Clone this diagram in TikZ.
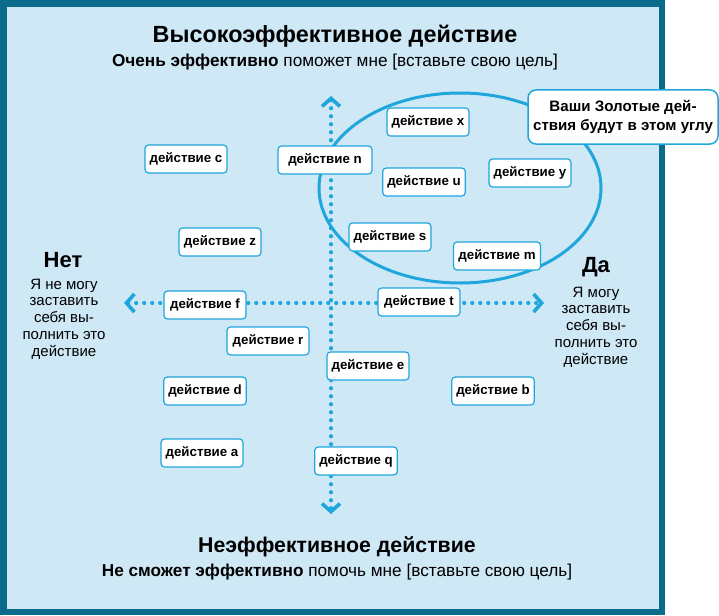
\documentclass[tikz,border=0pt]{standalone}
\usepackage{fontspec}
\setmainfont{Liberation Sans}
\usetikzlibrary{arrows.meta}
\definecolor{frameblue}{HTML}{0B6B8A}
\definecolor{paleblue}{HTML}{CFE8F6}
\definecolor{cyanline}{HTML}{1EA6DD}
\begin{document}
\begin{tikzpicture}[x=1pt,y=-1pt,
		act/.style={draw=cyanline,line width=1.2pt,fill=white,rounded corners=3.5pt,minimum width=82pt,minimum height=28pt,inner xsep=4.5pt,font=\fontsize{13.3}{15}\selectfont\bfseries},
		axis/.style={cyanline,line width=4.2pt,line cap=round,dash pattern=on 0pt off 8pt,>={Straight Barb[length=8pt,width=18pt,line width=3.6pt]},<->},
		side/.style={align=center,font=\fontsize{15}{16.8}\selectfont}]
		\useasboundingbox (0,0) rectangle (719,615);
		\fill[paleblue] (3,3) rectangle (662,612);
		\draw[frameblue,line width=6.5pt] (3.25,3.5) rectangle (661.75,611.75);
		% titles
		\node (top) at (335,36) {\fontsize{23.4}{26}\selectfont\bfseries Высокоэффективное действие};
		\node (topsub) at (335,62) {\fontsize{17.2}{19}\selectfont\textbf{Очень эффективно} поможет мне [вставьте свою цель]};
		\node (bot) at (337,547) {\fontsize{21.3}{24}\selectfont\bfseries Неэффективное действие};
		\node (botsub) at (337,572) {\fontsize{17.2}{19}\selectfont\textbf{Не сможет эффективно} помочь мне [вставьте свою цель]};
		\node (no) at (63,260) {\fontsize{22}{24}\selectfont\bfseries Нет};
		\node[side] (notext) at (64,319) {Я не могу\\заставить\\себя вы-\\полнить это\\действие};
		\node (yes) at (596,267) {\fontsize{22}{24}\selectfont\bfseries Да};
		\node[side] (yestext) at (596,327) {Я могу\\заставить\\себя вы-\\полнить это\\действие};
		% axes
		\coordinate (up) at (331,96);
		\coordinate (down) at (331,514);
		\coordinate (left) at (124,303);
		\coordinate (right) at (544,303);
		\draw[axis] (up) -- (down);
		\draw[axis] (left) -- (right);
		% golden corner
		\draw[cyanline,line width=3pt] (460,188) ellipse [x radius=141pt,y radius=95pt];
		\node[draw=cyanline,line width=1.5pt,fill=white,rounded corners=8pt,minimum width=190pt,minimum height=54pt,align=center,font=\fontsize{15.1}{19}\selectfont\bfseries] (gold) at (623,117) {Ваши Золотые дей-\\ствия будут в этом углу};
		% actions
		\node[act] (c) at (186,159) {действие c};
		\node[act,minimum width=94pt] (n) at (325,160) {действие n};
		\node[act] (x) at (428,122) {действие x};
		\node[act] (u) at (424,182) {действие u};
		\node[act] (y) at (530,173) {действие y};
		\node[act] (s) at (390,237) {действие s};
		\node[act,minimum width=87pt] (m) at (497,256) {действие m};
		\node[act] (z) at (220,242) {действие z};
		\node[act] (f) at (205,305) {действие f};
		\node[act] (r) at (268,341) {действие r};
		\node[act] (d) at (205,391) {действие d};
		\node[act] (e) at (368,366) {действие e};
		\node[act] (t) at (419,302) {действие t};
		\node[act] (b) at (493,391) {действие b};
		\node[act] (a) at (202,453) {действие a};
		\node[act] (q) at (356,461) {действие q};
	\end{tikzpicture}
\end{document}
